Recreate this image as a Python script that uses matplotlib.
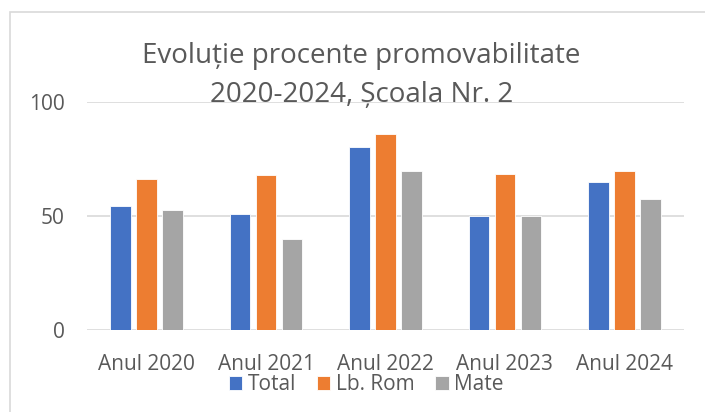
import numpy as np
import matplotlib
matplotlib.use("Agg")
import matplotlib.pyplot as plt
from matplotlib.patches import Rectangle

plt.rcParams['font.family'] = ['Open Sans', 'DejaVu Sans']

# date
ani = ['Anul 2020', 'Anul 2021', 'Anul 2022', 'Anul 2023', 'Anul 2024']
total = [54.5, 51, 80, 50, 65]
lb_rom = [66, 68, 86, 68.5, 69.5]
mate = [52.5, 40, 69.5, 50, 57.5]
serii = ['Total', 'Lb. Rom', 'Mate']
culori = ['#4472C4', '#ED7D31', '#A5A5A5']

gri_text = '#595959'

fig = plt.figure(figsize=(7.05, 4.12), dpi=100)
ax = fig.add_axes([87/705, 1-330/412, 597/705, (330-101.7)/412])

# chenar in jurul graficului
fig.patches.append(Rectangle((10/705, -0.2), 1.2, 1.2 - 12/412,
                             transform=fig.transFigure, fill=False,
                             edgecolor='#D9D9D9', linewidth=1.2))

x = np.arange(len(ani))
pas = 0.218
latime = 0.173
for i, (vals, col) in enumerate(zip([total, lb_rom, mate], culori)):
    ax.bar(x + (i-1)*pas, vals, width=latime, color=col, label=serii[i],
           edgecolor='white', linewidth=0.6, zorder=3)

ax.set_xlim(-0.5, len(ani)-0.5)
ax.set_ylim(0, 100)
ax.set_yticks([0, 50, 100])
ax.set_xticks(x)
ax.set_xticklabels(ani)
ax.grid(axis='y', color='#D9D9D9', linewidth=1.2, zorder=0)
for s in ax.spines.values():
    s.set_visible(False)
ax.tick_params(length=0, labelsize=15, colors=gri_text)
ax.tick_params(axis='y', pad=16)
ax.tick_params(axis='x', pad=17)

# titlu pe doua randuri, pus de mana ca in Excel
fig.text(361.5/705, 1-63.3/412, 'Evoluție procente promovabilitate', ha='center', va='baseline',
         fontsize=20, color=gri_text)
fig.text(361.5/705, 1-102.5/412, '2020-2024, Școala Nr. 2', ha='center', va='baseline',
         fontsize=20, color=gri_text)

fig.legend(loc='center', bbox_to_anchor=(366/705, 1-385/412), ncol=3, frameon=False,
           fontsize=15, labelcolor=gri_text, handlelength=0.65, handleheight=0.65,
           handletextpad=0.25, columnspacing=1.0, borderpad=0)

fig.savefig('out.png', dpi=100)
